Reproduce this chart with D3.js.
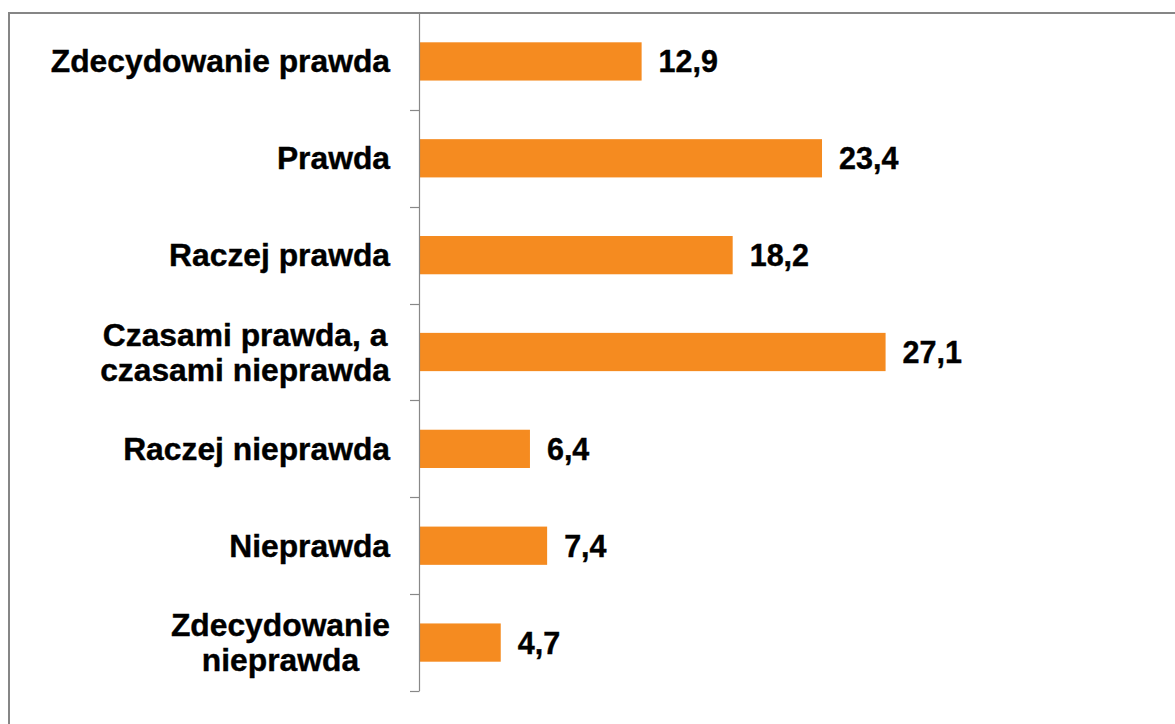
<!DOCTYPE html>
<html>
<head>
<meta charset="utf-8">
<script src="https://cdn.jsdelivr.net/npm/d3@7"></script>
<style>
  html, body { margin: 0; padding: 0; background: #fff; }
  svg { display: block; }
</style>
</head>
<body>
<svg id="chart" width="1175" height="724"></svg>
<script>
const categories = [
  ["Zdecydowanie prawda"],
  ["Prawda"],
  ["Raczej prawda"],
  ["Czasami prawda, a", "czasami nieprawda"],
  ["Raczej nieprawda"],
  ["Nieprawda"],
  ["Zdecydowanie", "nieprawda"]
];
const values = [12.9, 23.4, 18.2, 27.1, 6.4, 7.4, 4.7];
const valueLabels = ["12,9", "23,4", "18,2", "27,1", "6,4", "7,4", "4,7"];

const W = 1175, H = 724;
const svg = d3.select("#chart");
const font = "'Liberation Sans', Arial, sans-serif";

// outer border
svg.append("rect")
  .attr("x", 9).attr("y", 13)
  .attr("width", W + 20).attr("height", H + 20)
  .attr("fill", "none").attr("stroke", "#868686").attr("stroke-width", 2);

const keys = categories.map((c, i) => i);
const y = d3.scaleBand().domain(keys).range([13, 691]).padding(0);
const x = d3.scaleLinear().domain([0, 30]).range([420, 935.4]);

const bw = y.bandwidth();
const barH = bw * 0.395;

// bars
svg.append("g").selectAll("rect")
  .data(values)
  .join("rect")
  .attr("x", x(0))
  .attr("y", (d, i) => y(i) + (bw - barH) / 2)
  .attr("width", d => x(d) - x(0))
  .attr("height", barH)
  .attr("fill", "#F58B20");

// axis line + ticks at band boundaries
const ax = svg.append("g");
ax.append("line")
  .attr("x1", 419.5).attr("x2", 419.5)
  .attr("y1", 13).attr("y2", 691)
  .attr("stroke", "#888").attr("stroke-width", 1.2);
ax.selectAll("line.tick")
  .data(keys.map(i => y(i) + bw))
  .join("line")
  .attr("class", "tick")
  .attr("x1", 410).attr("x2", 419.5)
  .attr("y1", d => Math.round(d) + 0.5).attr("y2", d => Math.round(d) + 0.5)
  .attr("stroke", "#888").attr("stroke-width", 1.2);

// value labels
svg.append("g").selectAll("text")
  .data(values)
  .join("text")
  .attr("x", d => x(d) + 17)
  .attr("y", (d, i) => y(i) + bw / 2 + 11)
  .attr("font-family", font)
  .attr("font-weight", "bold")
  .attr("font-size", 30.5)
  .attr("fill", "#000")
  .attr("stroke", "#000").attr("stroke-width", 0.4)
  .text((d, i) => valueLabels[i]);

// category labels
const labelRight = 390;
const lineH = 35;
const fs = 31.8;
const lg = svg.append("g");
categories.forEach((lines, i) => {
  const cy = y(i) + bw / 2;
  if (lines.length === 1) {
    lg.append("text")
      .attr("x", labelRight)
      .attr("y", cy + 11)
      .attr("text-anchor", "end")
      .attr("font-family", font)
      .attr("font-weight", "bold")
      .attr("font-size", fs)
      .attr("fill", "#000")
      .attr("stroke", "#000").attr("stroke-width", 0.4)
      .text(lines[0]);
  } else {
    const ts = lines.map((t, k) => lg.append("text")
      .attr("y", cy - lineH * (lines.length - 1) / 2 + k * lineH + 11)
      .attr("text-anchor", "middle")
      .attr("font-family", font)
      .attr("font-weight", "bold")
      .attr("font-size", fs)
      .attr("fill", "#000")
      .attr("stroke", "#000").attr("stroke-width", 0.4)
      .text(t));
    const maxW = d3.max(ts, t => t.node().getComputedTextLength());
    ts.forEach(t => t.attr("x", labelRight - maxW / 2));
  }
});
</script>
</body>
</html>
